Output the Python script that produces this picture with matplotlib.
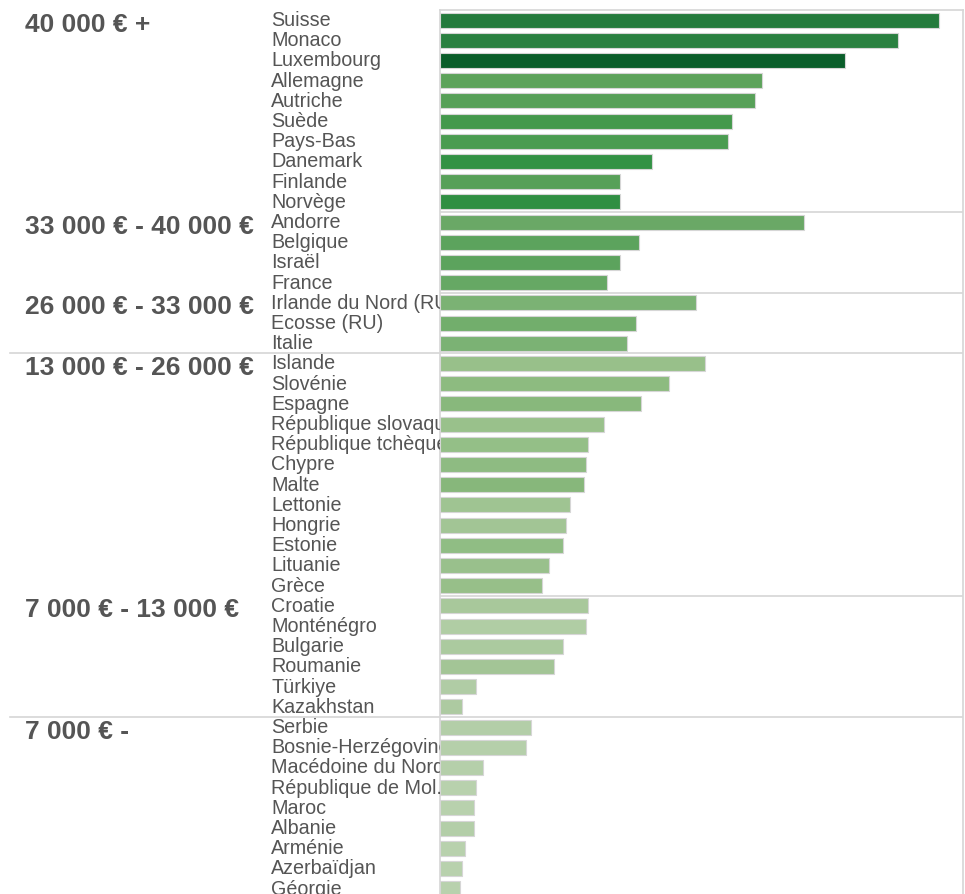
import matplotlib.pyplot as plt

# income groups, with the countries of each group (top to bottom)
groups = ["40 000 € +", "33 000 € - 40 000 €", "26 000 € - 33 000 €",
          "13 000 € - 26 000 €", "7 000 € - 13 000 €", "7 000 € -"]
group_sizes = [10, 4, 3, 12, 6, 9]

countries = ["Suisse", "Monaco", "Luxembourg", "Allemagne", "Autriche", "Suède",
             "Pays-Bas", "Danemark", "Finlande", "Norvège",
             "Andorre", "Belgique", "Israël", "France",
             "Irlande du Nord (RU)", "Ecosse (RU)", "Italie",
             "Islande", "Slovénie", "Espagne", "République slovaque",
             "République tchèque", "Chypre", "Malte", "Lettonie", "Hongrie",
             "Estonie", "Lituanie", "Grèce",
             "Croatie", "Monténégro", "Bulgarie", "Roumanie", "Türkiye", "Kazakhstan",
             "Serbie", "Bosnie-Herzégovine", "Macédoine du Nord", "République de Mol..",
             "Maroc", "Albanie", "Arménie", "Azerbaïdjan", "Géorgie"]

values = [499, 458, 405, 322, 315, 292, 288, 212, 180, 180,
          364, 199, 180, 167,
          256, 196, 187,
          265, 229, 201, 164, 148, 146, 144, 130, 126, 123, 109, 102,
          148, 146, 123, 114, 36, 22,
          91, 86, 43, 36, 34, 34, 25, 22, 20]

colors = ["#247a3c", "#2a8040", "#0a5e2a", "#5da35b", "#57a058", "#44994c",
          "#4a9c50", "#329244", "#57a058", "#2f8f42",
          "#6aa866", "#5ca35d", "#5ca35d", "#66a864",
          "#7bb274", "#72ae6c", "#7bb274",
          "#98c08a", "#8dbb80", "#88b87c", "#99c18b", "#94bf87", "#8ebb82",
          "#87b77b", "#9fc492", "#a2c595", "#90bd84", "#99c08c", "#97bf89",
          "#a8c89b", "#b0cda4", "#abca9f", "#a3c596", "#b0cca5", "#adcaa1",
          "#b3cea8", "#b5cfaa", "#b5cfaa", "#b8d1ad", "#b8d1ad", "#b3cea8",
          "#b8d1ad", "#b8d1ad", "#b8d1ad"]

W, H = 965, 894
fig = plt.figure(figsize=(W / 100, H / 100), dpi=100)

top = 10
pitch = 20.2
n_vis = (H - top) / pitch
ylim = (-0.5 + n_vis, -0.5)

ax = fig.add_axes([440 / W, 0, (963 - 440) / W, 1 - top / H])
left = fig.add_axes([0, 0, 440 / W, 1 - top / H], sharey=ax)
left.set_xlim(0, 440)
left.axis("off")

rows = list(range(len(countries)))
ax.barh(rows, values, height=0.74, color=colors, edgecolor="#d6d6d6", linewidth=0.8)
ax.set_xlim(0, 523)
ax.set_ylim(*ylim)
ax.set_xticks([])
ax.set_yticks([])
for s in ["left", "right", "top"]:
    ax.spines[s].set_color("#d6d6d6")
    ax.spines[s].set_linewidth(1.2)
ax.spines["bottom"].set_visible(False)

gray = "#555555"
for i, name in enumerate(countries):
    left.text(271, i + 0.02, name, ha="left", va="center", fontsize=14.2,
              color=gray, family="Liberation Sans", clip_on=True)

start = 0
for g, size in zip(groups, group_sizes):
    left.text(25, start + 0.22, g, ha="left", va="center", fontsize=19,
              fontweight="bold", color=gray, family="Liberation Sans")
    start += size
    if start < len(countries):
        ax.axhline(start - 0.5, color="#d6d6d6", linewidth=1.2)
        if g in ("26 000 € - 33 000 €", "7 000 € - 13 000 €"):
            left.plot([10, 440], [start - 0.5, start - 0.5], color="#d6d6d6",
                      linewidth=1.2, zorder=0)

fig.savefig("out.png", dpi=100)
